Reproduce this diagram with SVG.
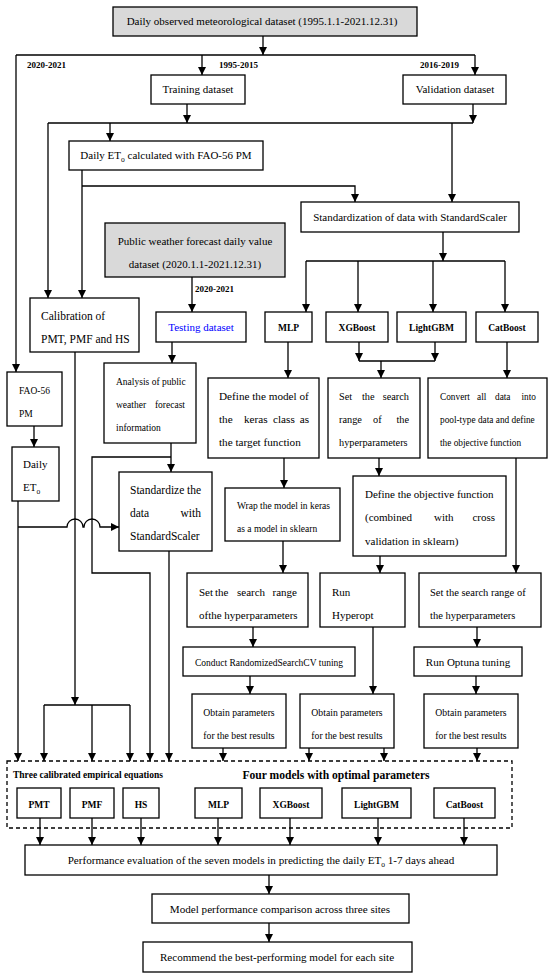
<svg xmlns="http://www.w3.org/2000/svg" width="550" height="977" viewBox="0 0 550 977" font-family="Liberation Serif, Times New Roman, serif">
<defs>
<marker id="ah" viewBox="0 0 10 10" refX="10" refY="5" markerWidth="8" markerHeight="8" markerUnits="userSpaceOnUse" orient="auto"><path d="M0,0 L10,5 L0,10 z" fill="#000"/></marker>
<style>
text{font-family:"Liberation Serif","Times New Roman",serif;fill:#000}
.b{fill:#fff;stroke:#000;stroke-width:1.3}
.g{fill:#d9d9d9;stroke:#000;stroke-width:1.3}
.c path{fill:none;stroke:#000;stroke-width:1.3}
.a{marker-end:url(#ah)}
.lab{font-weight:bold;font-size:9px}
.bold{font-weight:bold;font-size:9.5px}
.m{text-anchor:middle}
.e{text-anchor:end}
</style>
</defs>
<rect width="550" height="977" fill="#fff"/>

<g id="n-observed"><rect class="g" x="113" y="7" width="304" height="29"/><text class="m" x="262" y="25" font-size="11">Daily observed meteorological dataset (1995.1.1-2021.12.31)</text></g>
<g id="n-training"><rect class="b" x="151" y="75" width="94" height="29"/><text class="m" x="198" y="93" font-size="11">Training dataset</text></g>
<g id="n-validation"><rect class="b" x="403" y="75" width="103" height="29"/><text class="m" x="455" y="93" font-size="11">Validation dataset</text></g>
<g id="n-eto"><rect class="b" x="69" y="141" width="194" height="29"/><text class="m" x="166" y="159" font-size="11">Daily ET<tspan font-size="7.5" dy="2.5">o</tspan><tspan dy="-2.5"> calculated with FAO-56 PM</tspan></text></g>
<g id="n-std"><rect class="b" x="301" y="202" width="218" height="30"/><text class="m" x="410" y="221" font-size="11">Standardization of data with StandardScaler</text></g>
<g id="n-public"><rect class="g" x="105" y="223" width="180" height="54"/><text class="m" x="195" y="245" font-size="11">Public weather forecast daily value</text><text class="m" x="195" y="268" font-size="11">dataset (2020.1.1-2021.12.31)</text></g>
<g id="n-testing"><rect class="b" x="156" y="312" width="90" height="30"/><text class="m" x="201" y="331" font-size="11" style="fill:#0000ff">Testing dataset</text></g>
<g id="n-calib"><rect class="b" x="30" y="298" width="109" height="54"/><text x="41" y="320" font-size="11.5">Calibration of</text><text x="41" y="343" font-size="11.5">PMT, PMF and HS</text></g>
<g id="n-mlp"><rect class="b" x="265" y="312" width="47" height="30"/><text class="m bold" x="288.5" y="331">MLP</text></g>
<g id="n-xgb"><rect class="b" x="326" y="312" width="62" height="30"/><text class="m bold" x="357" y="331">XGBoost</text></g>
<g id="n-lgbm"><rect class="b" x="397" y="312" width="69" height="30"/><text class="m bold" x="431.5" y="331">LightGBM</text></g>
<g id="n-cat"><rect class="b" x="476" y="312" width="62" height="30"/><text class="m bold" x="507" y="331">CatBoost</text></g>
<g id="n-fao"><rect class="b" x="7" y="372" width="55" height="54"/><text x="19" y="394" font-size="9.5">FAO-56</text><text x="19" y="417" font-size="9.5">PM</text></g>
<g id="n-dailyeto"><rect class="b" x="12" y="447" width="47" height="54"/><text x="23" y="468" font-size="11">Daily</text><text x="23" y="491" font-size="11">ET<tspan font-size="7.5" dy="2.5">o</tspan></text></g>
<g id="n-analysis"><rect class="b" x="104" y="363" width="92" height="80"/><text x="116" y="385" font-size="9.5">Analysis of public</text><text x="116" y="408" font-size="9.5">weather</text><text class="e" x="185" y="408" font-size="9.5">forecast</text><text x="116" y="431" font-size="9.5">information</text></g>
<g id="n-standardize"><rect class="b" x="119" y="472" width="93" height="79"/><text x="130" y="494" font-size="11.5">Standardize</text><text class="e" x="201" y="494" font-size="11.5">the</text><text x="130" y="517" font-size="11.5">data</text><text class="e" x="201" y="517" font-size="11.5">with</text><text x="130" y="540" font-size="11.5">StandardScaler</text></g>
<g id="n-define"><rect class="b" x="208" y="378" width="111" height="80"/><text x="219" y="400" font-size="11.2">Define the model of</text><text x="219" y="423" font-size="11.2">the</text><text x="244" y="423" font-size="11.2">keras</text><text x="273" y="423" font-size="11.2">class</text><text class="e" x="309" y="423" font-size="11.2">as</text><text x="219" y="446" font-size="11.2">the target function</text></g>
<g id="n-setxgb"><rect class="b" x="328" y="378" width="92" height="80"/><text x="339" y="400" font-size="10.3">Set</text><text x="362" y="400" font-size="10.3">the</text><text class="e" x="409" y="400" font-size="10.3">search</text><text x="339" y="423" font-size="10.3">range</text><text x="373" y="423" font-size="10.3">of</text><text class="e" x="409" y="423" font-size="10.3">the</text><text x="339" y="446" font-size="10.3">hyperparameters</text></g>
<g id="n-convert"><rect class="b" x="428" y="378" width="119" height="80"/><text x="440" y="400" font-size="9.3">Convert</text><text x="477" y="400" font-size="9.3">all</text><text x="495" y="400" font-size="9.3">data</text><text class="e" x="536" y="400" font-size="9.3">into</text><text x="440" y="423" font-size="9.3">pool-type data and define</text><text x="440" y="446" font-size="9.3">the objective function</text></g>
<g id="n-wrap"><rect class="b" x="225" y="488" width="115" height="53"/><text x="237" y="509" font-size="9.5">Wrap the model in keras</text><text x="237" y="532" font-size="9.5">as a model in sklearn</text></g>
<g id="n-objective"><rect class="b" x="353" y="476" width="153" height="80"/><text x="365" y="498" font-size="11">Define the objective function</text><text x="365" y="521" font-size="11">(combined</text><text x="434" y="521" font-size="11">with</text><text class="e" x="495" y="521" font-size="11">cross</text><text x="365" y="545" font-size="11">validation in sklearn)</text></g>
<g id="n-setmlp"><rect class="b" x="187" y="573" width="121" height="54"/><text x="199" y="596" font-size="11">Set</text><text x="215" y="596" font-size="11">the</text><text x="237" y="596" font-size="11">search</text><text class="e" x="297" y="596" font-size="11">range</text><text x="199" y="619" font-size="11">ofthe hyperparameters</text></g>
<g id="n-hyperopt"><rect class="b" x="320" y="573" width="85" height="54"/><text x="332" y="596" font-size="11">Run</text><text x="332" y="619" font-size="11">Hyperopt</text></g>
<g id="n-setcat"><rect class="b" x="419" y="573" width="122" height="54"/><text x="430" y="596" font-size="10.5">Set the search range of</text><text x="430" y="619" font-size="10.5">the hyperparameters</text></g>
<g id="n-conduct"><rect class="b" x="183" y="647" width="172" height="29"/><text class="m" x="269" y="666" font-size="9.5">Conduct RandomizedSearchCV tuning</text></g>
<g id="n-optuna"><rect class="b" x="414" y="647" width="108" height="29"/><text class="m" x="468" y="666" font-size="11">Run Optuna tuning</text></g>
<g id="n-obtain1"><rect class="b" x="192" y="694" width="94" height="54"/><text class="m" x="239" y="716" font-size="9.7">Obtain parameters</text><text class="m" x="239" y="739" font-size="9.7">for the best results</text></g>
<g id="n-obtain2"><rect class="b" x="300" y="694" width="94" height="54"/><text class="m" x="347" y="716" font-size="9.7">Obtain parameters</text><text class="m" x="347" y="739" font-size="9.7">for the best results</text></g>
<g id="n-obtain3"><rect class="b" x="424" y="694" width="94" height="54"/><text class="m" x="471" y="716" font-size="9.7">Obtain parameters</text><text class="m" x="471" y="739" font-size="9.7">for the best results</text></g>

<g id="n-group"><rect x="7" y="761" width="505" height="67" fill="none" stroke="#000" stroke-width="1.3" stroke-dasharray="4,3"/><text x="13" y="778" font-size="9.5" font-weight="bold">Three calibrated empirical equations</text><text class="m" x="336" y="779" font-size="11.6" font-weight="bold">Four models with optimal parameters</text></g>
<g id="n-pmt"><rect class="b" x="17" y="788" width="44" height="30"/><text class="m bold" x="39" y="808">PMT</text></g>
<g id="n-pmf"><rect class="b" x="70" y="788" width="44" height="30"/><text class="m bold" x="92" y="808">PMF</text></g>
<g id="n-hs"><rect class="b" x="123" y="788" width="36" height="30"/><text class="m bold" x="141" y="808">HS</text></g>
<g id="n-mlp2"><rect class="b" x="195" y="788" width="47" height="30"/><text class="m bold" x="218.5" y="808">MLP</text></g>
<g id="n-xgb2"><rect class="b" x="260" y="788" width="62" height="30"/><text class="m bold" x="291" y="808">XGBoost</text></g>
<g id="n-lgbm2"><rect class="b" x="342" y="788" width="69" height="30"/><text class="m bold" x="376.5" y="808">LightGBM</text></g>
<g id="n-cat2"><rect class="b" x="434" y="788" width="61" height="30"/><text class="m bold" x="464.5" y="808">CatBoost</text></g>
<g id="n-perf"><rect class="b" x="25" y="845" width="472" height="30"/><text class="m" x="261" y="864" font-size="11.1">Performance evaluation of the seven models in predicting the daily ET<tspan font-size="7.5" dy="2.5">o</tspan><tspan dy="-2.5"> 1-7 days ahead</tspan></text></g>
<g id="n-compare"><rect class="b" x="152" y="894" width="257" height="29"/><text class="m" x="280" y="913" font-size="11.1">Model performance comparison across three sites</text></g>
<g id="n-recommend"><rect class="b" x="143" y="942" width="269" height="30"/><text class="m" x="277" y="961" font-size="11.1">Recommend the best-performing model for each site</text></g>

<g id="labels"><text class="lab" x="27" y="68">2020-2021</text><text class="lab" x="219" y="68">1995-2015</text><text class="lab" x="420" y="68">2016-2019</text><text class="lab" x="195" y="292">2020-2021</text></g>

<g id="connectors" class="c">
<path class="a" d="M263,36 V55"/>
<path d="M16,55 H475"/>
<path class="a" d="M202,55 V75"/>
<path class="a" d="M475,55 V75"/>
<path class="a" d="M16,55 V372"/>
<path class="a" d="M187,104 V123"/>
<path class="a" d="M473,104 V123"/>
<path d="M48,123 H473"/>
<path class="a" d="M110,123 V141"/>
<path class="a" d="M48,123 V298"/>
<path class="a" d="M452,123 V202"/>
<path class="a" d="M82,170 V298"/>
<path class="a" d="M82,186 H355 V202"/>
<path class="a" d="M443,232 V261"/>
<path d="M306,261 H505"/>
<path class="a" d="M306,261 V312"/>
<path class="a" d="M358,261 V312"/>
<path class="a" d="M433,261 V312"/>
<path class="a" d="M505,261 V312"/>
<path class="a" d="M192,277 V312"/>
<path class="a" d="M34,426 V447"/>
<path class="a" d="M18,501 V761"/>
<path class="a" d="M18,527 H67 A8,8 0 0 1 83,527 H84 A8,8 0 0 1 100,527 H119"/>
<path class="a" d="M75,352 V705"/>
<path d="M44,705 H130"/>
<path class="a" d="M44,705 V761"/>
<path class="a" d="M92,705 V761"/>
<path class="a" d="M130,705 V761"/>
<path class="a" d="M172,342 V363"/>
<path class="a" d="M171,443 V472"/>
<path class="a" d="M171,457 H92 V573 H150 V761"/>
<path class="a" d="M169,551 V761"/>
<path class="a" d="M288,342 V378"/>
<path class="a" d="M359,342 V361"/>
<path class="a" d="M435,342 V361"/>
<path d="M359,361 H435"/>
<path class="a" d="M381,361 V378"/>
<path class="a" d="M507,342 V378"/>
<path class="a" d="M284,458 V488"/>
<path class="a" d="M379,458 V476"/>
<path class="a" d="M516,458 V573"/>
<path class="a" d="M283,541 V573"/>
<path class="a" d="M380,556 V573"/>
<path class="a" d="M253,627 V647"/>
<path class="a" d="M373,627 V694"/>
<path class="a" d="M477,627 V647"/>
<path class="a" d="M250,676 V694"/>
<path class="a" d="M476,676 V694"/>
<path class="a" d="M223,748 V761"/>
<path class="a" d="M309,748 V761"/>
<path class="a" d="M384,748 V761"/>
<path class="a" d="M477,748 V761"/>
<path class="a" d="M40,818 V845"/>
<path class="a" d="M92,818 V845"/>
<path class="a" d="M141,818 V845"/>
<path class="a" d="M218,818 V845"/>
<path class="a" d="M290,818 V845"/>
<path class="a" d="M378,818 V845"/>
<path class="a" d="M464,818 V845"/>
<path class="a" d="M269,875 V894"/>
<path class="a" d="M269,923 V942"/>
</g>
</svg>
